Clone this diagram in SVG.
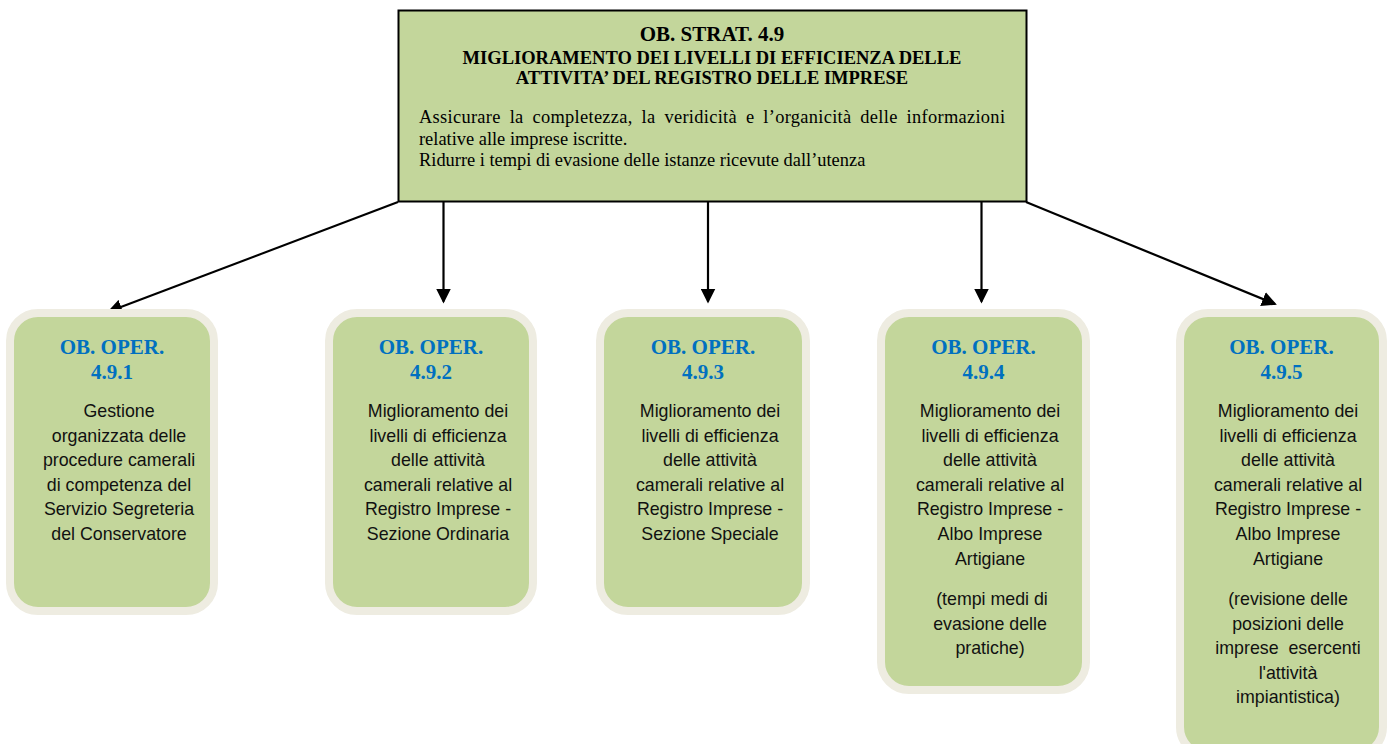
<svg xmlns="http://www.w3.org/2000/svg" width="1390" height="744" viewBox="0 0 1390 744">
  <style>
    .box { fill: #c3d69b; stroke: #eeece1; stroke-width: 8; }
    .main { fill: #c3d69b; stroke: #000; stroke-width: 2; }
    .ttl { font-family: "Liberation Serif", "Times New Roman", serif; font-weight: bold; font-size: 21px; fill: #0070c0; text-anchor: middle; }
    .body { font-family: "Liberation Sans", Arial, sans-serif; font-size: 17.8px; fill: #111; text-anchor: middle; }
    .mt1 { font-family: "Liberation Serif", "Times New Roman", serif; font-weight: bold; font-size: 21px; fill: #000; text-anchor: middle; }
    .mt2 { font-family: "Liberation Serif", "Times New Roman", serif; font-weight: bold; font-size: 18.5px; fill: #000; text-anchor: middle; }
    .mb { font-family: "Liberation Serif", "Times New Roman", serif; font-size: 18.4px; fill: #000; }
    .conn { stroke: #000; stroke-width: 2.2; fill: none; marker-end: url(#ah); }
  </style>
  <defs>
    <marker id="ah" markerUnits="userSpaceOnUse" viewBox="0 0 15 15" refX="13" refY="7.5" markerWidth="15" markerHeight="15" orient="auto">
      <path d="M0,0 L15,7.5 L0,15 z" fill="#000"/>
    </marker>
  </defs>
  <rect width="1390" height="744" fill="#fff"/>

  <g id="connectors">
    <line class="conn" x1="398" y1="202" x2="109" y2="311.5"/>
    <line class="conn" x1="443.5" y1="202" x2="443.5" y2="301.5"/>
    <line class="conn" x1="708" y1="202" x2="708" y2="301.5"/>
    <line class="conn" x1="981.5" y1="202" x2="981.5" y2="301.5"/>
    <line class="conn" x1="1026" y1="202" x2="1275" y2="304"/>
  </g>

  <g id="strat">
    <rect class="main" x="398.5" y="10.5" width="628" height="191"/>
    <text class="mt1" x="712" y="41">OB. STRAT. 4.9</text>
    <text class="mt2" x="712" y="63.5">MIGLIORAMENTO DEI LIVELLI DI EFFICIENZA DELLE</text>
    <text class="mt2" x="712" y="83.5">ATTIVITA’ DEL REGISTRO DELLE IMPRESE</text>
    <text class="mb" x="419" y="123" textLength="586" lengthAdjust="spacing" word-spacing="4">Assicurare la completezza, la veridicità e l’organicità delle informazioni</text>
    <text class="mb" x="419" y="144.5">relative alle imprese iscritte.</text>
    <text class="mb" x="419" y="166">Ridurre i tempi di evasione delle istanze ricevute dall’utenza</text>
  </g>

  <g id="op1">
    <rect class="box" x="10" y="313" width="204" height="298" rx="28"/>
    <text class="ttl" x="112" y="353.5">OB. OPER.</text>
    <text class="ttl" x="112" y="378.5">4.9.1</text>
    <text class="body" x="119" y="417">Gestione</text>
    <text class="body" x="119" y="441.6">organizzata delle</text>
    <text class="body" x="119" y="466.2">procedure camerali</text>
    <text class="body" x="119" y="490.8">di competenza del</text>
    <text class="body" x="119" y="515.4">Servizio Segreteria</text>
    <text class="body" x="119" y="540">del Conservatore</text>
  </g>

  <g id="op2">
    <rect class="box" x="329" y="313" width="204" height="298" rx="28"/>
    <text class="ttl" x="431" y="353.5">OB. OPER.</text>
    <text class="ttl" x="431" y="378.5">4.9.2</text>
    <text class="body" x="438" y="417">Miglioramento dei</text>
    <text class="body" x="438" y="441.6">livelli di efficienza</text>
    <text class="body" x="438" y="466.2">delle attività</text>
    <text class="body" x="438" y="490.8">camerali relative al</text>
    <text class="body" x="438" y="515.4">Registro Imprese -</text>
    <text class="body" x="438" y="540">Sezione Ordinaria</text>
  </g>

  <g id="op3">
    <rect class="box" x="600" y="313" width="206" height="298" rx="28"/>
    <text class="ttl" x="703" y="353.5">OB. OPER.</text>
    <text class="ttl" x="703" y="378.5">4.9.3</text>
    <text class="body" x="710" y="417">Miglioramento dei</text>
    <text class="body" x="710" y="441.6">livelli di efficienza</text>
    <text class="body" x="710" y="466.2">delle attività</text>
    <text class="body" x="710" y="490.8">camerali relative al</text>
    <text class="body" x="710" y="515.4">Registro Imprese -</text>
    <text class="body" x="710" y="540">Sezione Speciale</text>
  </g>

  <g id="op4">
    <rect class="box" x="881" y="313" width="205" height="377" rx="28"/>
    <text class="ttl" x="983.5" y="353.5">OB. OPER.</text>
    <text class="ttl" x="983.5" y="378.5">4.9.4</text>
    <text class="body" x="990" y="417">Miglioramento dei</text>
    <text class="body" x="990" y="441.6">livelli di efficienza</text>
    <text class="body" x="990" y="466.2">delle attività</text>
    <text class="body" x="990" y="490.8">camerali relative al</text>
    <text class="body" x="990" y="515.4">Registro Imprese -</text>
    <text class="body" x="990" y="540">Albo Imprese</text>
    <text class="body" x="990" y="564.6">Artigiane</text>
    <text class="body" x="992" y="605">(tempi medi di</text>
    <text class="body" x="990" y="629.6">evasione delle</text>
    <text class="body" x="990" y="654.2">pratiche)</text>
  </g>

  <g id="op5">
    <rect class="box" x="1180" y="313" width="203" height="442" rx="28"/>
    <text class="ttl" x="1281.5" y="353.5">OB. OPER.</text>
    <text class="ttl" x="1281.5" y="378.5">4.9.5</text>
    <text class="body" x="1288" y="417">Miglioramento dei</text>
    <text class="body" x="1288" y="441.6">livelli di efficienza</text>
    <text class="body" x="1288" y="466.2">delle attività</text>
    <text class="body" x="1288" y="490.8">camerali relative al</text>
    <text class="body" x="1288" y="515.4">Registro Imprese -</text>
    <text class="body" x="1288" y="540">Albo Imprese</text>
    <text class="body" x="1288" y="564.6">Artigiane</text>
    <text class="body" x="1288" y="605">(revisione delle</text>
    <text class="body" x="1288" y="629.6">posizioni delle</text>
    <text class="body" x="1288" y="654.2" xml:space="preserve">imprese  esercenti</text>
    <text class="body" x="1288" y="678.8">l'attività</text>
    <text class="body" x="1288" y="703.4">impiantistica)</text>
  </g>
</svg>
